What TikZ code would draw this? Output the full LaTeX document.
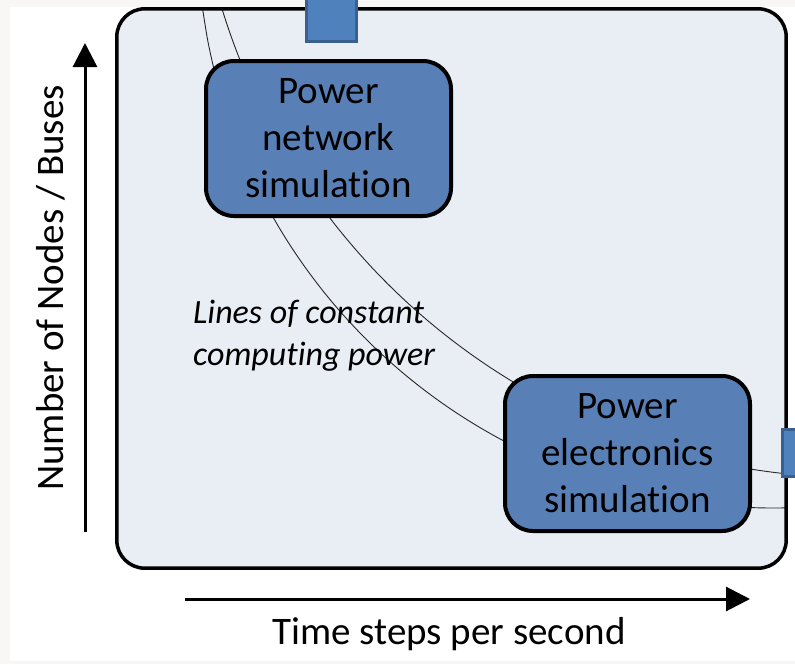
\documentclass[tikz,border=0pt]{standalone}
\usepackage{fontspec}
\setmainfont{Carlito}[Ligatures=CommonOff]
\usetikzlibrary{arrows.meta}
\definecolor{pagegray}{RGB}{248,247,245}
\definecolor{framefill}{RGB}{233,237,244}
\definecolor{boxfill}{RGB}{89,128,182}
\definecolor{smallfill}{RGB}{79,129,189}
\definecolor{smalledge}{RGB}{58,96,145}
\definecolor{curvecol}{RGB}{40,40,40}
\tikzset{
  simbox/.style={draw=black, line width=4pt, fill=boxfill, rounded corners=28pt,
    minimum width=245pt, minimum height=155pt, align=center, inner sep=0pt,
    font=\fontsize{39}{47}\selectfont},
  smallrect/.style={draw=smalledge, line width=3pt, fill=smallfill},
  curveline/.style={draw=curvecol, line width=0.9pt},
  axisarrow/.style={line width=3pt, -{Triangle[length=24pt,width=24pt]}},
  axislabel/.style={font=\fontsize{39}{47}\selectfont, inner sep=0pt}
}
\begin{document}
\begin{tikzpicture}[x=1pt,y=-1pt]
\useasboundingbox (0,0) rectangle (795,664);
\fill[pagegray] (0,0) rectangle (795,664);
\fill[white] (10,7) rectangle (795,661);
% outer frame
\node[fill=framefill, rounded corners=28pt, minimum width=669pt, minimum height=559pt, inner sep=0pt] (frame) at (451.5,288.5) {};
% lines of constant computing power (circular arcs)
\draw[curveline] plot[domain=202.5:786, samples=120, smooth] (\x, {-68.2 + 576.2*sqrt(1 - ((\x-773.6)/576.2)^2)});
\draw[curveline] plot[domain=222:786, samples=120, smooth] (\x, {-185.8 + 663.3*sqrt(1 - ((\x-856.1)/663.3)^2)});
\draw[line width=3.5pt, rounded corners=28pt] (frame.north west) rectangle (frame.south east);
% boxes
\node[simbox] (net) at (328.5,138.5) {Power\\network\\simulat\kern0pt ion};
\node[simbox] (pe) at (627.5,453.5) {Power\\electronics\\simulat\kern0pt ion};
% small rectangles cut by the border
\draw[smallrect] (306,-3) rectangle (356,41);
\draw[smallrect] (782,429) rectangle (800,476);
% label
\node[anchor=base west, align=left, inner sep=0pt, font=\fontsize{34}{42}\selectfont\itshape] (lbl) at (193,365) {Lines of constant\\comput\kern0pt ing power};
% axes
\coordinate (ybot) at (85,532);
\coordinate (ytop) at (85,43);
\coordinate (xl) at (185,599);
\coordinate (xr) at (750,599);
\draw[axisarrow] (ybot) -- (ytop);
\draw[axisarrow] (xl) -- (xr);
\node[axislabel, anchor=base] (xlab) at (449,644) {Time steps per second};
\node[axislabel, anchor=base, rotate=90] (ylab) at (63,288) {Number of Nodes / Buses};
\end{tikzpicture}
\end{document}
